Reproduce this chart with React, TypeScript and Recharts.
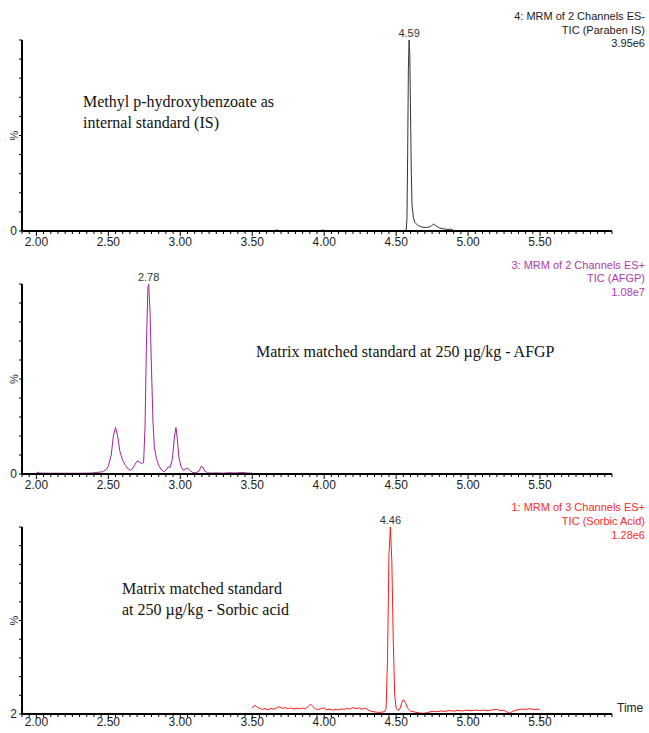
import React from "react";
import { LineChart, Line, XAxis, YAxis, ReferenceDot } from "recharts";

// channel 4: methyl paraben (IS), time in min / intensity in %
const isTime = [
  2.0, 2.5, 3.0, 3.5, 3.65, 3.67, 3.69, 3.97, 3.99, 4.01, 4.4, 4.55, 4.57, 4.575, 4.58, 4.585, 4.59,
  4.595, 4.6, 4.605, 4.61, 4.62, 4.63, 4.65, 4.68, 4.71, 4.74, 4.76, 4.78, 4.8, 4.83, 4.86, 4.88, 4.9,
  4.92, 5.2, 5.6, 6.0,
];
const isSignal = [
  0, 0, 0, 0, 0, 0.6, 0, 0, 0.6, 0, 0, 0, 0.5, 6, 40, 85, 100,
  92, 62, 32, 14, 7, 4.5, 3, 2, 1.8, 2.4, 3.6, 2.6, 1.6, 1.1, 0.8, 1, 0.2,
  0, 0, 0, 0,
];

// channel 3: AFGP
const afgpTime = [
  2.0, 2.01, 2.02, 2.1, 2.2, 2.3, 2.38, 2.42, 2.46, 2.48, 2.5, 2.52, 2.535, 2.55, 2.565, 2.58, 2.6,
  2.62, 2.64, 2.655, 2.67, 2.685, 2.7, 2.715, 2.73, 2.745, 2.755, 2.765, 2.775, 2.78, 2.79, 2.8, 2.81,
  2.82, 2.835, 2.85, 2.87, 2.89, 2.905, 2.915, 2.93, 2.945, 2.96, 2.97, 2.98, 2.99, 3.005, 3.02, 3.035,
  3.05, 3.065, 3.085, 3.11, 3.13, 3.145, 3.155, 3.17, 3.19, 3.22, 3.26, 3.3, 3.34, 3.38, 3.42, 3.46, 3.5,
];
const afgpSignal = [
  0.6, 1.0, 0.5, 0.4, 0.4, 0.4, 0.5, 0.8, 1.2, 2, 4, 10, 20, 24.5, 20, 12, 7,
  4.5, 2.5, 2, 3, 5, 6.8, 6.5, 5.5, 6, 25, 70, 98, 100, 85, 55, 28,
  14, 8, 4.5, 2, 1.2, 2.5, 3.8, 3.5, 8, 20, 24.5, 18, 9, 4, 2, 2.5,
  3.2, 2, 0.8, 0.6, 1.5, 4, 3.8, 1.5, 0.6, 0.5, 0.6, 0.4, 0.7, 0.5, 0.8, 0.6, 0.4,
];

// channel 1: sorbic acid
const sorbicTime = [
  3.5, 3.51, 3.52, 3.53, 3.55, 3.57, 3.59, 3.61, 3.63, 3.65, 3.67, 3.69, 3.71, 3.73, 3.75, 3.77, 3.79,
  3.81, 3.83, 3.85, 3.87, 3.89, 3.905, 3.92, 3.94, 3.96, 3.98, 4.0, 4.02, 4.04, 4.06, 4.08, 4.1, 4.12,
  4.14, 4.16, 4.18, 4.2, 4.22, 4.24, 4.26, 4.28, 4.3, 4.32, 4.34, 4.36, 4.38, 4.4, 4.42, 4.43, 4.44,
  4.45, 4.46, 4.47, 4.48, 4.49, 4.5, 4.51, 4.525, 4.54, 4.55, 4.565, 4.58, 4.6, 4.63, 4.66, 4.69, 4.72,
  4.75, 4.78, 4.81, 4.84, 4.87, 4.9, 4.93, 4.96, 4.99, 5.02, 5.05, 5.08, 5.11, 5.14, 5.17, 5.2, 5.22,
  5.25, 5.27, 5.29, 5.31, 5.34, 5.37, 5.4, 5.43, 5.46, 5.48, 5.5,
];
const sorbicSignal = [
  5.0, 6.2, 6.5, 5.8, 5.0, 4.4, 4.8, 4.2, 4.9, 4.5, 5.2, 5.8, 5.0, 5.3, 4.8, 5.2, 4.6,
  5.0, 4.7, 5.1, 4.8, 6.0, 7.2, 6.0, 4.6, 4.3, 4.9, 5.2, 4.2, 4.6, 4.0, 4.5, 4.2, 4.7,
  4.4, 5.0, 4.6, 5.4, 4.8, 5.2, 4.5, 5.0, 4.4, 3.6, 3.2, 3.0, 2.8, 3.0, 3.2, 5, 30,
  85, 100, 82, 40, 12, 5, 4, 4.5, 8, 9.5, 8, 5, 3.5, 3.0, 2.6, 2.3, 2.8,
  3.4, 3.2, 3.6, 3.4, 3.8, 3.5, 3.9, 3.6, 4.0, 3.7, 4.1, 3.8, 4.0, 3.7, 4.2, 4.5, 3.8,
  4.0, 3.0, 2.4, 3.4, 4.2, 4.6, 4.4, 4.8, 4.3, 4.6, 4.2,
];

const xLabels = ["2.00", "2.50", "3.00", "3.50", "4.00", "4.50", "5.00", "5.50"];

const SANS = '"Liberation Sans", Arial, sans-serif';
const SERIF = '"Liberation Serif", "Times New Roman", serif';
const W = 649;

// minor ticks every 0.05 min
const xTicks: number[] = [];
for (let i = 0; i <= 82; i++) xTicks.push(Math.round((1.9 + i * 0.05) * 100) / 100);

function XTick(props: any) {
  const { x, y, payload, labelDy } = props;
  const label = Number(payload.value).toFixed(2);
  const major = xLabels.includes(label);
  return (
    <g>
      <line x1={x} x2={x} y1={y} y2={y + (major ? 5 : 3)} stroke="#000" strokeWidth={1} />
      {major && (
        <text x={x} y={y + labelDy} textAnchor="middle" fontSize={12} fontFamily={SANS} fill="#222">
          {label}
        </text>
      )}
    </g>
  );
}

function YTick(props: any) {
  const { x, y, payload, min, bottomLabel } = props;
  const v = payload.value;
  const mid = Math.abs(v - (min + 100) / 2) < 0.01;
  return (
    <g>
      <line x1={x - 3} x2={x} y1={y} y2={y} stroke="#000" strokeWidth={1} />
      {v === min && (
        <text x={x - 5} y={y + 4} textAnchor="end" fontSize={12} fontFamily={SANS} fill="#222">
          {bottomLabel}
        </text>
      )}
      {mid && (
        <text x={x - 8} y={y} textAnchor="middle" fontSize={11} fontFamily={SANS} fill="#222"
          transform={`rotate(-90 ${x - 8} ${y})`} dominantBaseline="central">
          %
        </text>
      )}
    </g>
  );
}

type PanelProps = {
  time: number[];
  signal: number[];
  color: string;
  textColor: string;
  height: number;
  top: number;
  yMin: number;
  yLabel: string;
  header: string[];
  headerY: number[];
  note: string[];
  noteX: number;
  noteY: number[];
  labelDy?: number;
  showTime?: boolean;
};

function Panel(p: PanelProps) {
  const data = p.time.map((t, i) => ({ t, v: p.signal[i] }));
  const peak = data.reduce((a, b) => (b.v > a.v ? b : a));
  const yTicks = Array.from({ length: 11 }, (_, i) => p.yMin + (i * (100 - p.yMin)) / 10);
  const labelDy = p.labelDy ?? 15;
  return (
    <LineChart width={W} height={p.height} data={data} margin={{ top: p.top, right: 37, bottom: 0, left: 0 }}>
      <XAxis
        dataKey="t" type="number" domain={[1.9, 6.0]} ticks={xTicks} interval={0} allowDataOverflow
        tick={(props: any) => <XTick {...props} labelDy={labelDy} />} tickLine={false} tickSize={0} tickMargin={0} height={19}
        axisLine={{ stroke: "#000", strokeWidth: 2 }}
      />
      <YAxis
        type="number" domain={[p.yMin, 100]} ticks={yTicks} interval={0} width={22} allowDataOverflow
        tickLine={false} tickSize={0} tickMargin={0}
        tick={(props: any) => <YTick {...props} min={p.yMin} bottomLabel={p.yLabel} />}
        axisLine={{ stroke: "#000", strokeWidth: 2 }}
      />
      <Line dataKey="v" type="linear" stroke={p.color} strokeWidth={1} dot={false} isAnimationActive={false} />
      <ReferenceDot
        x={peak.t} y={peak.v} r={0} stroke="none" fill="none"
        label={{ value: peak.t.toFixed(2), position: "top", offset: 3, fontSize: 11, fontFamily: SANS, fill: "#333" }}
      />
      {p.header.map((s, i) => (
        <text key={s} x={645} y={p.headerY[i]} textAnchor="end" fontSize={11} fontFamily={SANS} fill={p.textColor}>
          {s}
        </text>
      ))}
      {p.note.map((s, i) => (
        <text key={s} x={p.noteX} y={p.noteY[i]} fontSize={16} fontFamily={SERIF} fill="#111">
          {s}
        </text>
      ))}
      {p.showTime && (
        <text x={617} y={p.height - 21} fontSize={12} fontFamily={SANS} fill="#222">
          Time
        </text>
      )}
    </LineChart>
  );
}

export default function App() {
  return (
    <div style={{ position: "absolute", left: 0, top: 0, width: W, height: 733, background: "#fff", overflow: "hidden" }}>
      <div style={{ position: "absolute", left: 0, top: 0 }}>
        <Panel
          time={isTime} signal={isSignal} color="#333" textColor="#1a1a1a" height={250} top={40}
          yMin={0} yLabel="0"
          header={["4: MRM of 2 Channels ES-", "TIC (Paraben IS)", "3.95e6"]} headerY={[20, 34, 47]}
          note={["Methyl p-hydroxybenzoate as", "internal standard (IS)"]} noteX={83} noteY={[107, 128]}
        />
      </div>
      <div style={{ position: "absolute", left: 0, top: 250 }}>
        <Panel
          time={afgpTime} signal={afgpSignal} color="#a3239b" textColor="#b23aa9" height={243} top={34}
          yMin={0} yLabel="0"
          header={["3: MRM of 2 Channels ES+", "TIC (AFGP)", "1.08e7"]} headerY={[19, 32, 46]}
          note={["Matrix matched standard at 250 µg/kg - AFGP"]} noteX={256} noteY={[107]}
        />
      </div>
      <div style={{ position: "absolute", left: 0, top: 493 }}>
        <Panel
          time={sorbicTime} signal={sorbicSignal} color="#ff1a1a" textColor="#ff2b2b" height={240} top={34}
          yMin={2} yLabel="2" labelDy={12}
          header={["1: MRM of 3 Channels ES+", "TIC (Sorbic Acid)", "1.28e6"]} headerY={[18, 32, 46]}
          note={["Matrix matched standard", "at 250 µg/kg - Sorbic acid"]} noteX={122} noteY={[101, 122]}
          showTime
        />
      </div>
    </div>
  );
}
